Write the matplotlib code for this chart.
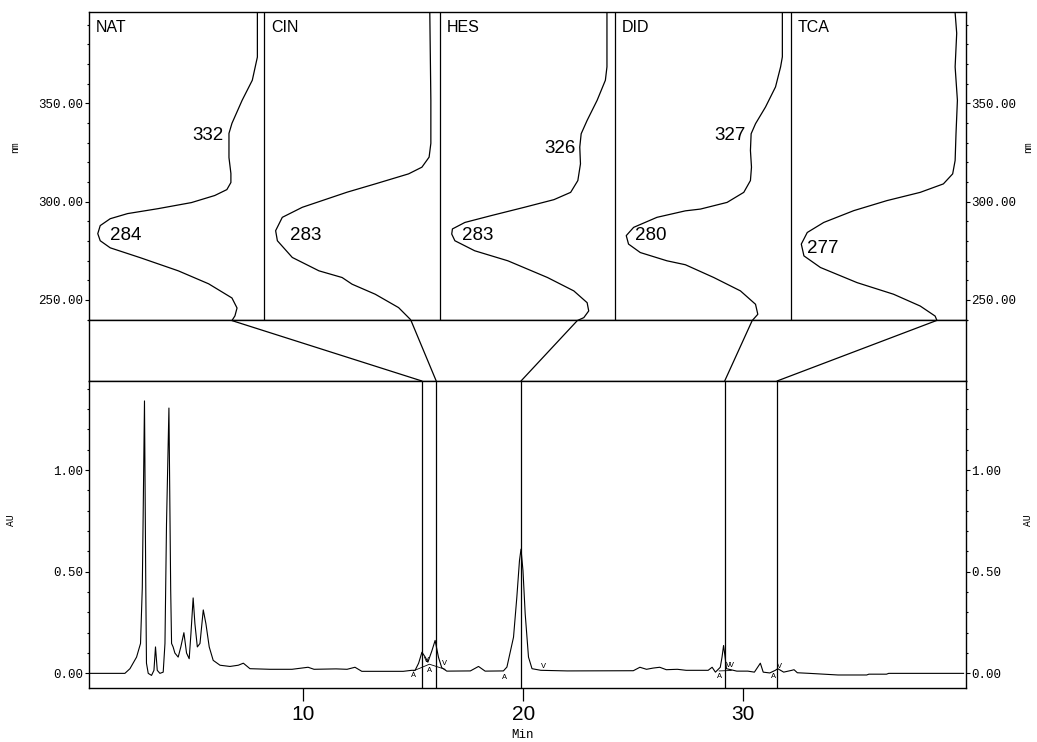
import matplotlib
matplotlib.use("Agg")
import matplotlib.pyplot as plt
from matplotlib.patches import ConnectionPatch
from matplotlib.ticker import MultipleLocator, FixedLocator

# ---- spectra (wavelength in nm, position across each panel 0..1) ----
names = ["NAT", "CIN", "HES", "DID", "TCA"]

nat_nm = [396, 373.5, 361.7, 351.5, 339.8, 334.7, 322.4, 314.3, 309.7, 306.1, 303.1, 299.5,
          296.4, 293.9, 291.3, 287.8, 283.7, 280.1, 276.5, 271.4, 264.8, 258.2, 251.0, 245.9,
          241.9, 239.5]
nat_x = [0.960, 0.960, 0.931, 0.873, 0.815, 0.798, 0.798, 0.809, 0.809, 0.786, 0.717, 0.584,
         0.393, 0.220, 0.121, 0.064, 0.050, 0.064, 0.121, 0.295, 0.509, 0.682, 0.815, 0.844,
         0.832, 0.815]

cin_nm = [396, 351.5, 329.6, 322.6, 317.5, 314.1, 309.0, 304.8, 297.1, 292.0, 285.2, 280.1,
          271.6, 264.8, 261.4, 258.0, 252.9, 246.1, 240.2, 239.5]
cin_x = [0.943, 0.949, 0.949, 0.939, 0.898, 0.822, 0.632, 0.472, 0.216, 0.102, 0.064, 0.074,
         0.159, 0.311, 0.443, 0.500, 0.632, 0.765, 0.831, 0.836]

hes_nm = [396, 368.5, 361.7, 351.5, 341.3, 334.5, 327.7, 319.2, 310.7, 304.7, 301.0, 297.1,
          292.9, 289.4, 286.1, 283.5, 280.1, 275.0, 269.9, 261.4, 254.6, 248.6, 244.4, 241.0,
          239.5]
hes_x = [0.953, 0.953, 0.944, 0.897, 0.840, 0.806, 0.798, 0.802, 0.787, 0.746, 0.651, 0.482,
         0.294, 0.143, 0.072, 0.068, 0.086, 0.199, 0.388, 0.614, 0.764, 0.840, 0.849, 0.821,
         0.784]

did_nm = [396, 373.6, 368.5, 358.3, 348.1, 339.6, 334.5, 326.0, 317.5, 310.7, 304.7, 299.6,
          296.2, 295.3, 292.0, 286.9, 282.7, 278.4, 274.1, 269.9, 267.9, 261.4, 254.6, 247.8,
          242.7, 239.5]
did_x = [0.953, 0.953, 0.943, 0.914, 0.857, 0.800, 0.775, 0.771, 0.777, 0.771, 0.733, 0.638,
         0.486, 0.400, 0.238, 0.105, 0.063, 0.076, 0.143, 0.295, 0.400, 0.562, 0.714, 0.800,
         0.813, 0.781]

tca_nm = [396, 385.6, 368.5, 351.5, 334.5, 320.9, 314.1, 309.0, 304.7, 300.5, 295.4, 289.4,
          284.3, 278.4, 272.4, 266.5, 258.8, 252.9, 246.9, 241.8, 239.6]
tca_x = [0.938, 0.947, 0.938, 0.951, 0.943, 0.938, 0.924, 0.871, 0.739, 0.549, 0.360, 0.189,
         0.095, 0.061, 0.076, 0.170, 0.379, 0.587, 0.739, 0.824, 0.834]

spec_nm = [nat_nm, cin_nm, hes_nm, did_nm, tca_nm]
spec_x = [nat_x, cin_x, hes_x, did_x, tca_x]

lam_max = [["332", "284"], ["283"], ["326", "283"], ["327", "280"], ["277"]]

# retention times (min) of the five compounds
ret_times = [15.40, 16.05, 19.90, 29.15, 31.53]

# ---- chromatogram ----
t_min = [0.28, 1.91, 2.14, 2.44, 2.62, 2.70, 2.74, 2.80, 2.86, 2.89, 2.97, 3.12, 3.23, 3.30,
         3.38, 3.50, 3.65, 3.73, 3.80, 3.91, 3.99, 4.03, 4.10, 4.18, 4.33, 4.45, 4.59, 4.71,
         4.83, 4.91, 5.01, 5.09, 5.20, 5.32, 5.47, 5.59, 5.74, 5.92, 6.23, 6.68, 7.06, 7.29,
         7.59, 8.5, 9.5, 10.23, 10.5, 11.5, 12.0, 12.36, 12.67, 14.55, 14.94, 15.09, 15.25,
         15.40, 15.55, 15.67, 15.85, 16.00, 16.15, 16.30, 16.53, 17.6, 17.97, 18.27, 19.1,
         19.26, 19.56, 19.71, 19.83, 19.90, 19.99, 20.09, 20.24, 20.40, 20.8, 22.0, 25.0,
         25.3, 25.6, 25.9, 26.2, 26.5, 27.0, 27.4, 28.4, 28.58, 28.73, 28.95, 29.03, 29.10,
         29.17, 29.23, 29.7, 30.2, 30.5, 30.77, 30.9, 31.2, 31.45, 31.56, 31.83, 32.2, 32.3,
         32.45, 33.0, 34.3, 35.6, 35.7, 36.5, 36.6, 40.0]
au = [0.0, 0.0, 0.023, 0.08, 0.147, 0.42, 0.78, 1.34, 0.41, 0.05, 0.0, -0.01, 0.015, 0.13,
      0.015, 0.0, 0.006, 0.147, 0.735, 1.305, 0.41, 0.147, 0.13, 0.10, 0.08, 0.13, 0.20, 0.10,
      0.072, 0.196, 0.371, 0.244, 0.13, 0.147, 0.312, 0.244, 0.13, 0.064, 0.04, 0.034, 0.04,
      0.05, 0.023, 0.02, 0.02, 0.03, 0.02, 0.022, 0.02, 0.03, 0.01, 0.01, 0.015, 0.015, 0.05,
      0.104, 0.08, 0.055, 0.11, 0.162, 0.08, 0.028, 0.011, 0.012, 0.034, 0.011, 0.012,
      0.031, 0.178, 0.374, 0.554, 0.611, 0.505, 0.293, 0.08, 0.023, 0.015, 0.012, 0.013,
      0.03, 0.02, 0.026, 0.03, 0.018, 0.02, 0.015, 0.015, 0.03, 0.006, 0.03, 0.08, 0.137,
      0.08, 0.023, 0.011, 0.011, 0.006, 0.05, 0.006, 0.002, 0.015, 0.023, 0.006, 0.015,
      0.018, 0.003, 0.0, -0.008, -0.008, -0.004, -0.004, 0.0, 0.0]

# integration marks (A = start, V = end)
mark_t = [15.01, 15.62, 15.74, 16.42, 19.14, 20.90, 28.90, 29.30, 29.44, 31.38, 31.65]
mark_au = [-0.012, 0.062, 0.016, 0.050, -0.02, 0.034, -0.015, 0.040, 0.040, -0.015, 0.034]
mark_txt = ["A", "V", "A", "V", "A", "V", "A", "V", "V", "A", "V"]

# ---- layout ----
lbl_pos = [[(0.769, 333.7, "right"), (0.12, 282.7, "left")],
           [(0.148, 282.7, "left")],
           [(0.774, 327.0, "right"), (0.128, 282.7, "left")],
           [(0.743, 333.7, "right"), (0.114, 282.7, "left")],
           [(0.095, 275.9, "left")]]

mono = "Liberation Mono"
sans = "Liberation Sans"

fig = plt.figure(figsize=(10.37, 7.42), dpi=100)
L, W = 89 / 1037, 877 / 1037
ax_top = fig.add_axes([L, 1 - 320 / 742, W, 308 / 742])
ax_mid = fig.add_axes([L, 1 - 381 / 742, W, 61 / 742])
ax_bot = fig.add_axes([L, 1 - 688 / 742, W, 307 / 742])

for a in (ax_top, ax_mid, ax_bot):
    for s in a.spines.values():
        s.set_linewidth(1.0)
        s.set_color("black")

# top: spectra
ax_top.set_xlim(0, 5)
ax_top.set_ylim(239.8, 396.4)
for i in range(5):
    xs = [i + v for v in spec_x[i]]
    ax_top.plot(xs, spec_nm[i], color="black", lw=0.9, solid_joinstyle="round")
    if i > 0:
        ax_top.axvline(i, color="black", lw=0.9)
    ax_top.text(i + 0.04, 0.95, names[i], transform=ax_top.get_xaxis_transform(),
                ha="left", va="center", fontsize=11.5, family=sans)
    for txt, (px, py, ha) in zip(lam_max[i], lbl_pos[i]):
        ax_top.text(i + px, py, txt, ha=ha, va="center", fontsize=13.5, family=sans)

ax_top.set_xticks([])
ax_top.yaxis.set_major_locator(FixedLocator([250, 300, 350]))
ax_top.yaxis.set_minor_locator(MultipleLocator(10))
ax_top.yaxis.set_major_formatter(lambda v, p: "%.2f" % v)
ax_top.tick_params(axis="y", which="major", direction="out", length=3, width=0.8, pad=1,
                   left=True, right=True, labelleft=True, labelright=True, labelsize=9)
ax_top.tick_params(axis="y", which="minor", direction="out", length=1.5, width=0.8,
                   left=True, right=True)
ax_top.set_ylabel("nm", family=mono, fontsize=7)
ax_top.yaxis.set_label_coords(-0.079, 0.56)
ax_top.text(1.071, 0.56, "nm", transform=ax_top.transAxes, rotation=90, ha="center",
            va="center", family=mono, fontsize=7)

# middle band
ax_mid.set_xticks([])
ax_mid.set_yticks([])

# bottom: chromatogram
ax_bot.plot(t_min, au, color="black", lw=0.8, solid_joinstyle="round")
ax_bot.set_xlim(0.28, 40.11)
ax_bot.set_ylim(-0.072, 1.438)
for rt in ret_times:
    ax_bot.axvline(rt, color="black", lw=0.9)
for t, a, m in zip(mark_t, mark_au, mark_txt):
    ax_bot.text(t, a, m, ha="center", va="center", fontsize=6, family=mono)
ax_bot.plot([15.01, 15.74, 16.45], [0.012, 0.045, 0.02], color="black", lw=0.6)
ax_bot.plot([28.9, 29.45], [0.012, 0.014], color="black", lw=0.6)

ax_bot.xaxis.set_major_locator(FixedLocator([10, 20, 30]))
ax_bot.xaxis.set_major_formatter(lambda v, p: "%d" % v)
ax_bot.tick_params(axis="x", direction="out", length=9, width=0.9, pad=3, labelsize=15)
ax_bot.yaxis.set_major_locator(FixedLocator([0, 0.5, 1.0]))
ax_bot.yaxis.set_minor_locator(MultipleLocator(0.1))
ax_bot.yaxis.set_major_formatter(lambda v, p: "%.2f" % v)
ax_bot.tick_params(axis="y", which="major", direction="out", length=3, width=0.8, pad=1,
                   left=True, right=True, labelleft=True, labelright=True, labelsize=9)
ax_bot.tick_params(axis="y", which="minor", direction="out", length=1.5, width=0.8,
                   left=True, right=True)
ax_bot.set_xlabel("Min", family=mono, fontsize=9)
ax_bot.xaxis.set_label_coords(0.494, -0.135)
ax_bot.set_ylabel("AU", family=mono, fontsize=7)
ax_bot.yaxis.set_label_coords(-0.083, 0.547)
ax_bot.text(1.071, 0.547, "AU", transform=ax_bot.transAxes, rotation=90, ha="center",
            va="center", family=mono, fontsize=7)

for lab in ax_top.get_yticklabels() + ax_bot.get_yticklabels():
    lab.set_family(mono)
for lab in ax_bot.get_xticklabels():
    lab.set_family(sans)

# connectors from the spectrum ends to the retention-time lines
y_top = ax_bot.get_ylim()[1]
for i in range(5):
    con = ConnectionPatch(xyA=(i + spec_x[i][-1], spec_nm[i][-1]), coordsA=ax_top.transData,
                          xyB=(ret_times[i], y_top), coordsB=ax_bot.transData,
                          color="black", lw=0.9)
    fig.add_artist(con)

fig.savefig("out.png", dpi=100)
